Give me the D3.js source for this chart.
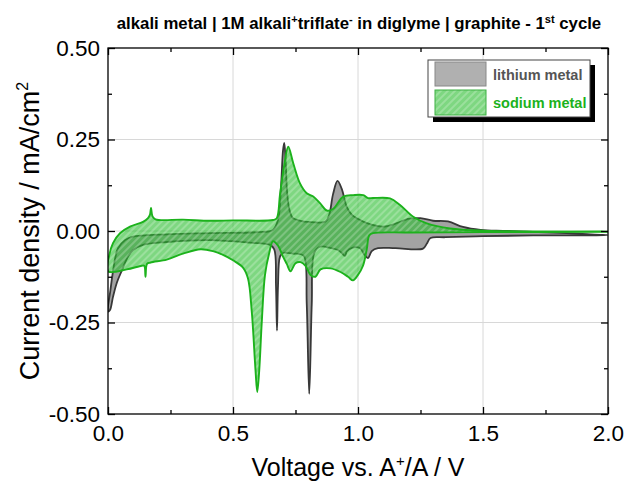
<!DOCTYPE html>
<html><head><meta charset="utf-8">
<script src="https://cdn.jsdelivr.net/npm/d3@7"></script>
<style>
html,body{margin:0;padding:0;background:#fff;}
svg{display:block;font-family:"Liberation Sans",Arial,sans-serif;}
</style></head>
<body><svg id="c" width="624" height="490"></svg>
<script>
// ---- data: [voltage V, current density mA/cm2] ----
const liCathodic = [[2.0,-0.011],[1.7,-0.012],[1.5,-0.014],[1.35,-0.017],[1.29,-0.019],[1.275,-0.035],[1.26,-0.048],[1.15,-0.047],[1.08,-0.047],[1.055,-0.055],[1.04,-0.074],[1.025,-0.064],[1.008,-0.047],[0.976,-0.046],[0.955,-0.056],[0.948,-0.068],[0.935,-0.06],[0.92,-0.052],[0.888,-0.046],[0.848,-0.043],[0.825,-0.06],[0.815,-0.2],[0.805,-0.445],[0.795,-0.2],[0.785,-0.07],[0.768,-0.063],[0.74,-0.062],[0.7,-0.06],[0.688,-0.07],[0.68,-0.15],[0.676,-0.272],[0.672,-0.15],[0.665,-0.05],[0.648,-0.038],[0.568,-0.032],[0.408,-0.025],[0.236,-0.03],[0.14,-0.038],[0.1,-0.052],[0.076,-0.075],[0.056,-0.107],[0.036,-0.14],[0.02,-0.18],[0.008,-0.216],[0.0,-0.22]];
const liAnodic = [[0.0,-0.22],[0.01,-0.16],[0.02,-0.11],[0.03,-0.07],[0.04,-0.047],[0.068,-0.025],[0.096,-0.016],[0.236,-0.009],[0.408,-0.006],[0.6,-0.003],[0.66,0.003],[0.68,0.03],[0.692,0.12],[0.7,0.22],[0.705,0.241],[0.71,0.2],[0.716,0.11],[0.725,0.06],[0.74,0.035],[0.77,0.028],[0.8,0.025],[0.87,0.026],[0.885,0.045],[0.9,0.1],[0.918,0.137],[0.935,0.115],[0.955,0.066],[0.975,0.045],[0.995,0.035],[1.05,0.018],[1.1,0.012],[1.15,0.02],[1.2,0.033],[1.25,0.035],[1.3,0.028],[1.36,0.026],[1.42,0.011],[1.49,0.003],[1.6,0.0],[2.0,-0.002]];
const naCathodic = [[2.0,-0.002],[1.5,-0.003],[1.2,-0.004],[1.06,-0.006],[1.045,-0.012],[1.035,-0.05],[1.02,-0.095],[1.0,-0.12],[0.98,-0.135],[0.96,-0.125],[0.93,-0.112],[0.89,-0.102],[0.85,-0.105],[0.83,-0.125],[0.81,-0.12],[0.79,-0.095],[0.77,-0.085],[0.75,-0.088],[0.73,-0.11],[0.715,-0.09],[0.7,-0.07],[0.68,-0.04],[0.66,-0.028],[0.645,-0.06],[0.628,-0.12],[0.615,-0.25],[0.605,-0.38],[0.597,-0.44],[0.59,-0.38],[0.575,-0.22],[0.56,-0.13],[0.54,-0.1],[0.5,-0.08],[0.46,-0.065],[0.42,-0.055],[0.37,-0.05],[0.3,-0.062],[0.235,-0.078],[0.17,-0.086],[0.156,-0.09],[0.15,-0.125],[0.145,-0.095],[0.135,-0.095],[0.075,-0.105],[0.0,-0.11]];
const naAnodic = [[0.0,-0.11],[0.005,-0.066],[0.02,-0.033],[0.048,-0.006],[0.088,0.012],[0.14,0.025],[0.16,0.035],[0.168,0.045],[0.172,0.063],[0.178,0.04],[0.19,0.032],[0.3,0.031],[0.408,0.028],[0.5,0.029],[0.66,0.03],[0.675,0.035],[0.688,0.1],[0.705,0.18],[0.721,0.23],[0.741,0.185],[0.768,0.13],[0.795,0.103],[0.821,0.094],[0.848,0.076],[0.875,0.056],[0.9,0.06],[0.941,0.094],[0.981,0.098],[1.021,0.098],[1.04,0.09],[1.06,0.09],[1.128,0.089],[1.168,0.071],[1.221,0.039],[1.275,0.021],[1.368,0.007],[1.5,0.001],[2.0,0.0]];
const xMajor = [0, 0.5, 1.0, 1.5, 2.0];
const xMinor = [0.25, 0.75, 1.25, 1.75];
const yMajor = [-0.5, -0.25, 0, 0.25, 0.5];
const yMinor = [-0.375, -0.125, 0.125, 0.375];
const xLabels = ["0.0","0.5","1.0","1.5","2.0"];
const yLabels = ["-0.50","-0.25","0.00","0.25","0.50"];
const seriesNames = ["lithium metal","sodium metal"];

const svg = d3.select("#c");
const L=108, R=608, T=48, B=414;
const x = d3.scaleLinear().domain([0,2]).range([L,R]);
const y = d3.scaleLinear().domain([-0.5,0.5]).range([B,T]);

const defs = svg.append("defs");
defs.append("clipPath").attr("id","clip").append("rect").attr("x",L).attr("y",T).attr("width",R-L).attr("height",B-T);
const pat = defs.append("pattern").attr("id","hatch").attr("patternUnits","userSpaceOnUse")
  .attr("width",5).attr("height",5).attr("patternTransform","rotate(45)");
pat.append("rect").attr("width",5).attr("height",5).attr("fill","rgba(40,188,45,0.6)");
pat.append("line").attr("x1",1).attr("y1",0).attr("x2",1).attr("y2",5).attr("stroke","rgba(255,255,255,0.28)").attr("stroke-width",1.6);

// grid
svg.append("g").selectAll("line").data(xMajor.slice(1,-1)).join("line")
  .attr("x1",d=>x(d)).attr("x2",d=>x(d)).attr("y1",T).attr("y2",B).attr("stroke","#d8d8d8").attr("stroke-width",1);
svg.append("g").selectAll("line").data(yMajor.slice(1,-1)).join("line")
  .attr("y1",d=>y(d)).attr("y2",d=>y(d)).attr("x1",L).attr("x2",R).attr("stroke","#d8d8d8").attr("stroke-width",1);

const loop = d3.line().x(d=>x(d[0])).y(d=>y(d[1])).curve(d3.curveCatmullRomClosed.alpha(0.5));
const plot = svg.append("g").attr("clip-path","url(#clip)");
plot.append("path").attr("d",loop(liCathodic.concat(liAnodic.slice(1,-1))))
  .attr("fill","#a3a3a3").attr("stroke","#383838").attr("stroke-width",1.8).attr("stroke-linejoin","round");
plot.append("path").attr("d",loop(naCathodic.concat(naAnodic.slice(1,-1))))
  .attr("fill","url(#hatch)").attr("stroke","#1cb21c").attr("stroke-width",1.9).attr("stroke-linejoin","round");

// frame
svg.append("rect").attr("x",L).attr("y",T).attr("width",R-L).attr("height",B-T).attr("fill","none").attr("stroke","#000").attr("stroke-width",1.3);

function ticks(axisGen, scale, vals, size, transform, fmt){
  const a = axisGen(scale).tickValues(vals).tickSizeInner(-size).tickSizeOuter(0).tickPadding(6);
  a.tickFormat(fmt || (()=> ""));
  const g = svg.append("g").attr("transform",transform).call(a);
  g.select(".domain").remove();
  g.selectAll(".tick line").attr("stroke","#000").attr("stroke-width",1.3);
  return g;
}
const gx = ticks(d3.axisBottom, x, xMajor, 7, `translate(0,${B})`, (d,i)=>xLabels[i]);
gx.selectAll("text").attr("font-size",22.5).attr("fill","#000").attr("font-family","Liberation Sans, Arial, sans-serif").attr("dy","0.85em").attr("y",8);
ticks(d3.axisBottom, x, xMinor, 4, `translate(0,${B})`);
ticks(d3.axisTop, x, xMajor, 7, `translate(0,${T})`);
ticks(d3.axisTop, x, xMinor, 4, `translate(0,${T})`);
const gy = ticks(d3.axisLeft, y, yMajor, 7, `translate(${L},0)`, (d,i)=>yLabels[i]);
gy.selectAll("text").attr("font-size",22.5).attr("fill","#000").attr("font-family","Liberation Sans, Arial, sans-serif").attr("x",-8);
ticks(d3.axisLeft, y, yMinor, 4, `translate(${L},0)`);
ticks(d3.axisRight, y, yMajor, 7, `translate(${R},0)`);
ticks(d3.axisRight, y, yMinor, 4, `translate(${R},0)`);

// axis titles
const xt = svg.append("text").attr("x",(L+R)/2).attr("y",476).attr("text-anchor","middle").attr("font-size",25).attr("fill","#000");
xt.append("tspan").text("Voltage vs. A");
xt.append("tspan").attr("dy",-10).attr("font-size",15).text("+");
xt.append("tspan").attr("dy",10).text("/A / V");
const yt = svg.append("text").attr("transform",`translate(39,${(T+B)/2}) rotate(-90)`).attr("text-anchor","middle").attr("font-size",27).attr("fill","#000");
yt.append("tspan").text("Current density / mA/cm");
yt.append("tspan").attr("dy",-11).attr("font-size",16).text("2");

// title
const tt = svg.append("text").attr("x",359).attr("y",29).attr("text-anchor","middle").attr("font-size",16.8).attr("font-weight","bold").attr("fill","#000");
tt.append("tspan").text("alkali metal | 1M alkali");
tt.append("tspan").attr("dy",-6).attr("font-size",11).text("+");
tt.append("tspan").attr("dy",6).text("triflate");
tt.append("tspan").attr("dy",-6).attr("font-size",11).text("-");
tt.append("tspan").attr("dy",6).text(" in diglyme | graphite - 1");
tt.append("tspan").attr("dy",-6).attr("font-size",11).text("st");
tt.append("tspan").attr("dy",6).text(" cycle");

// legend
const lg = svg.append("g");
lg.append("rect").attr("x",433).attr("y",65).attr("width",162).attr("height",57).attr("fill","#000");
lg.append("rect").attr("x",428).attr("y",60).attr("width",162).attr("height",57).attr("fill","#fff").attr("stroke","#444").attr("stroke-width",1);
lg.append("rect").attr("x",435).attr("y",62).attr("width",51).attr("height",24).attr("fill","#b0b0b0").attr("stroke","#888");
lg.append("rect").attr("x",435).attr("y",90).attr("width",51).attr("height",25).attr("fill","url(#hatch)").attr("stroke","#3cb043");
lg.append("text").attr("x",493).attr("y",80).attr("font-size",14.5).attr("font-weight","bold").attr("fill","#555").text(seriesNames[0]);
lg.append("text").attr("x",493).attr("y",108).attr("font-size",14.5).attr("font-weight","bold").attr("fill","#1cb21c").text(seriesNames[1]);
</script></body></html>
